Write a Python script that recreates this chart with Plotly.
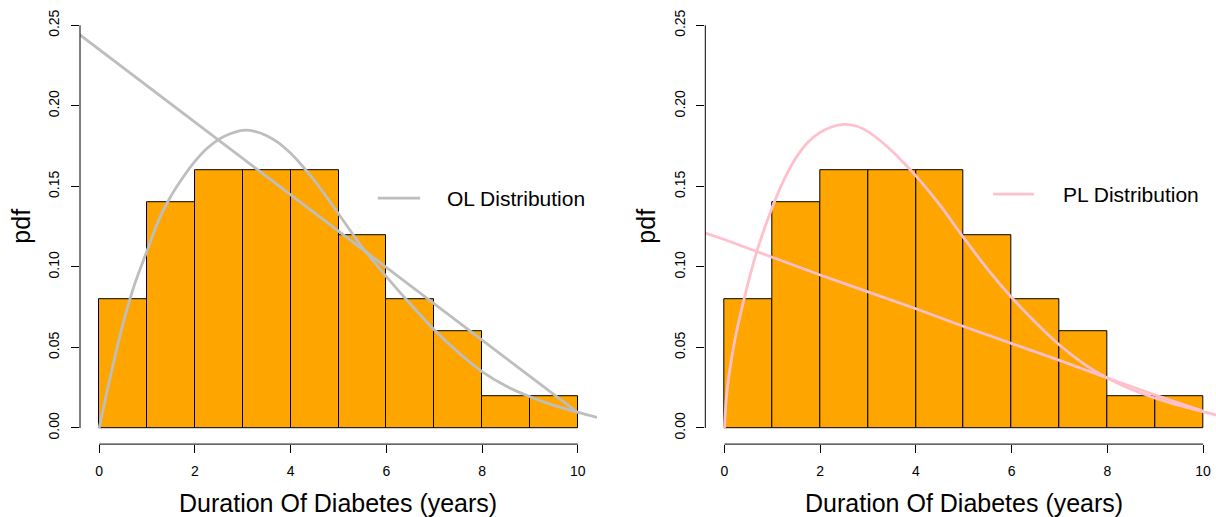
import plotly.graph_objects as go

# ---------------- data ----------------
bin_edges = [0, 1, 2, 3, 4, 5, 6, 7, 8, 9, 10]
densities = [0.08, 0.14, 0.16, 0.16, 0.16, 0.12, 0.08, 0.06, 0.02, 0.02]

x_ticks = [0, 2, 4, 6, 8, 10]
y_ticks = [0.00, 0.05, 0.10, 0.15, 0.20, 0.25]

# left panel: OL distribution (fitted density curve + straight line)
ol_curve_x = [0, 0.25, 0.5, 0.75, 1.0, 1.25, 1.5, 1.75, 2.0, 2.25, 2.5, 2.75, 3.0,
              3.25, 3.5, 3.75, 4.0, 4.25, 4.5, 4.75, 5.0, 5.5, 6.0, 6.5, 7.0, 7.5,
              8.0, 8.5, 9.0, 9.5, 10.0, 10.4]
ol_curve_y = [0, 0.034, 0.065, 0.090, 0.110, 0.1295, 0.144, 0.1555, 0.1655, 0.1735,
              0.1792, 0.1828, 0.1848, 0.1842, 0.1815, 0.177, 0.1705, 0.1625, 0.1535,
              0.1435, 0.133, 0.112, 0.094, 0.077, 0.061, 0.047, 0.035, 0.026, 0.0194,
              0.014, 0.0097, 0.0066]
ol_line_x = [-0.4, 0, 1, 2, 3, 4, 5, 6, 7, 8, 9, 10]
ol_line_y = [0.244, 0.235, 0.2125, 0.190, 0.1675, 0.145, 0.1225, 0.100, 0.0775,
             0.055, 0.0325, 0.0095]

# right panel: PL distribution
pl_curve_x = [0, 0.05, 0.2, 0.41, 0.67, 1.0, 1.25, 1.5, 1.75, 2.0, 2.25, 2.5, 2.75,
              3.0, 3.25, 3.5, 3.75, 4.0, 4.5, 5.0, 5.5, 6.0, 6.5, 7.0, 7.5, 8.0,
              8.5, 9.0, 9.5, 10.0, 10.3]
pl_curve_y = [0, 0.022, 0.052, 0.080, 0.109, 0.137, 0.1545, 0.168, 0.1775, 0.1835,
              0.1870, 0.1885, 0.1875, 0.1840, 0.1785, 0.1720, 0.1645, 0.1565, 0.1385,
              0.118, 0.0985, 0.081, 0.0655, 0.0515, 0.040, 0.031, 0.024, 0.0185,
              0.014, 0.0101, 0.0078]
pl_line_x = [-0.4, 0, 1, 2, 3, 4, 5, 6, 7, 8, 9, 10]
pl_line_y = [0.121, 0.117, 0.106, 0.095, 0.0845, 0.074, 0.063, 0.0525, 0.042,
             0.031, 0.0205, 0.0105]

x_title = "Duration Of Diabetes (years)"
y_title = "pdf"
panels = [
    dict(name="OL Distribution", color="#BEBEBE",
         cx=ol_curve_x, cy=ol_curve_y, lx=ol_line_x, ly=ol_line_y),
    dict(name="PL Distribution", color="#FFC0CB",
         cx=pl_curve_x, cy=pl_curve_y, lx=pl_line_x, ly=pl_line_y),
]

# ---------------- layout geometry ----------------
W, H = 1216, 517
FONT = "Liberation Sans, Arial, Helvetica, sans-serif"
ydom = [(H - 444.1) / H, (H - 9.2) / H]
xdoms = [[80 / W, 597 / W], [705.3 / W, 1.0]]
xranges = [[-0.4, 10.4], [-0.4, 10.27]]
yrange = [-0.01, 0.26]
title_cx = [338.5 / W, 963.8 / W]
ylab_cx = [21 / W, 646 / W]
legend_pos = [  # (line x0, line x1, text x, y) in axis-domain fractions
    (0.576, 0.658, 0.706, 0.5655),
    (0.5636, 0.6438, 0.6967, 0.5747),
]

centers = [(a + b) / 2 for a, b in zip(bin_edges[:-1], bin_edges[1:])]
widths = [b - a for a, b in zip(bin_edges[:-1], bin_edges[1:])]

fig = go.Figure()
shapes = []
annotations = []
for i, p in enumerate(panels):
    xa = "x" if i == 0 else "x2"
    ya = "y" if i == 0 else "y2"
    fig.add_trace(go.Bar(
        x=centers, y=densities, width=widths, xaxis=xa, yaxis=ya,
        marker=dict(color="#FFA500", line=dict(color="black", width=1)),
        showlegend=False, hoverinfo="skip"))
    fig.add_trace(go.Scatter(
        x=p["cx"], y=p["cy"], mode="lines", xaxis=xa, yaxis=ya,
        line=dict(color=p["color"], width=2.8, shape="spline", smoothing=0.8),
        showlegend=False, hoverinfo="skip"))
    fig.add_trace(go.Scatter(
        x=p["lx"], y=p["ly"], mode="lines", xaxis=xa, yaxis=ya,
        line=dict(color=p["color"], width=2.8),
        showlegend=False, hoverinfo="skip"))

    # R-style axis lines spanning first..last tick
    shapes.append(dict(type="line", xref=xa, yref=f"{ya} domain",
                       x0=x_ticks[0], x1=x_ticks[-1], y0=0, y1=0,
                       line=dict(color="black", width=1)))
    shapes.append(dict(type="line", xref=f"{xa} domain", yref=ya,
                       x0=0, x1=0, y0=y_ticks[0], y1=y_ticks[-1],
                       line=dict(color="black", width=1)))
    # legend (no box)
    lx0, lx1, tx, ty = legend_pos[i]
    shapes.append(dict(type="line", xref=f"{xa} domain", yref=f"{ya} domain",
                       x0=lx0, x1=lx1, y0=ty, y1=ty,
                       line=dict(color=p["color"], width=2.8)))
    annotations.append(dict(text=p["name"], xref=f"{xa} domain", yref=f"{ya} domain",
                            x=tx, y=ty, xanchor="left", yanchor="middle",
                            showarrow=False, font=dict(size=21, color="black", family=FONT)))
    # axis titles
    annotations.append(dict(text=x_title, xref="paper", yref="paper",
                            x=title_cx[i], y=(H - 503) / H,
                            xanchor="center", yanchor="middle",
                            showarrow=False, font=dict(size=25, color="black", family=FONT)))
    annotations.append(dict(text=y_title, xref="paper", yref="paper",
                            x=ylab_cx[i], y=(ydom[0] + ydom[1]) / 2,
                            xanchor="center", yanchor="middle", textangle=-90,
                            showarrow=False, font=dict(size=25, color="black", family=FONT)))

axis_common = dict(showgrid=False, zeroline=False, showline=False,
                   ticks="outside", ticklen=8, tickwidth=1, tickcolor="black",
                   tickfont=dict(size=14, color="black", family=FONT))

layout = dict(
    width=W, height=H, margin=dict(l=0, r=0, t=0, b=0),
    paper_bgcolor="white", plot_bgcolor="white",
    font=dict(family=FONT, color="black"),
    showlegend=False, bargap=0,
    shapes=shapes, annotations=annotations,
)
for i in range(2):
    sx = "xaxis" if i == 0 else "xaxis2"
    sy = "yaxis" if i == 0 else "yaxis2"
    layout[sx] = dict(axis_common, domain=xdoms[i], range=xranges[i],
                      tickvals=x_ticks, anchor="y" if i == 0 else "y2",
                      ticklabelstandoff=6)
    layout[sy] = dict(axis_common, domain=ydom, range=yrange,
                      tickvals=y_ticks, tickformat=".2f", tickangle=-90,
                      anchor="x" if i == 0 else "x2", ticklabelstandoff=6)

fig.update_layout(**layout)
fig.write_html("out.html",
               config={"displayModeBar": False},
               post_script="document.body.style.margin='0';"
                           "document.body.style.overflow='hidden';")
